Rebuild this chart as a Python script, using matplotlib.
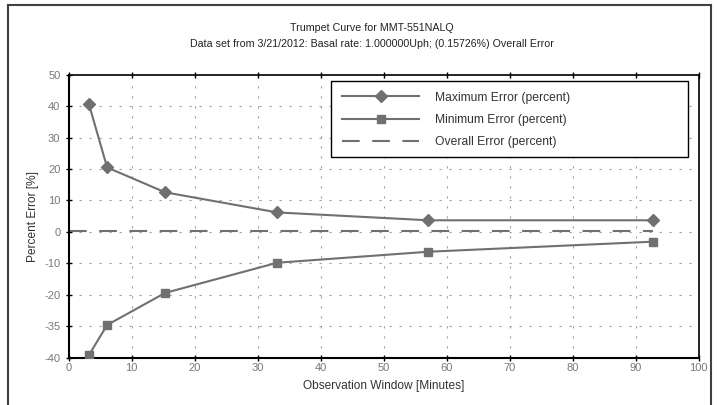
import matplotlib
matplotlib.use("Agg")
import matplotlib.pyplot as plt
from matplotlib.patches import Rectangle
from matplotlib.lines import Line2D

plt.rcParams['font.family'] = ['Liberation Sans', 'DejaVu Sans']

# Data
window_minutes = [3.2, 6.1, 15.3, 33.1, 57.1, 92.8]
max_error = [40.7, 20.5, 12.6, 6.2, 3.7, 3.7]
min_error = [-39.2, -29.6, -19.4, -9.8, -6.3, -3.1]
overall_x = [0, 92.8]
overall_error = [0.15726, 0.15726]

x_ticks = [0, 10, 20, 30, 40, 50, 60, 70, 80, 90, 100]
y_ticks = [50, 40, 30, 20, 10, 0, -10, -20, -30, -40]
y_tick_labels = ["50", "40", "30", "20", "10", "0", "-10", "-20", "-35", "-40"]

title = "Trumpet Curve for MMT-551NALQ"
subtitle = "Data set from 3/21/2012: Basal rate: 1.000000Uph; (0.15726%) Overall Error"

W, H = 717, 405
fig = plt.figure(figsize=(W / 100, H / 100), dpi=100)
ax = fig.add_axes([68.7 / W, 1 - 357.7 / H, 630 / W, 283 / H])

line_col = '#707070'
ax.set_xlim(0, 100)
ax.set_ylim(-40, 50)

# grid
for v in x_ticks[1:-1]:
    ax.axvline(v, color='#a0a0a0', lw=0.8, dashes=(2, 7), zorder=1)
for v in y_ticks[1:-1]:
    ax.axhline(v, color='#a0a0a0', lw=0.8, dashes=(2, 7), zorder=1)

l1, = ax.plot(window_minutes, max_error, color=line_col, lw=1.5, marker='D',
              markersize=6.5, mfc=line_col, mec=line_col, zorder=3,
              label='Maximum Error (percent)')
l2, = ax.plot(window_minutes, min_error, color=line_col, lw=1.5, marker='s',
              markersize=5.5, mfc=line_col, mec=line_col, zorder=3,
              label='Minimum Error (percent)')
l3, = ax.plot(overall_x, overall_error, color=line_col, lw=1.5, dashes=(8.5, 6),
              zorder=2, label='Overall Error (percent)')

ax.set_xticks(x_ticks)
ax.set_yticks(y_ticks)
ax.set_yticklabels(y_tick_labels)
ax.tick_params(axis='both', direction='inout', length=4, width=1, colors='black',
               labelcolor='#777777', labelsize=8, pad=4)
ax.tick_params(axis='x', top=True, pad=2)

for s in ['left', 'bottom']:
    ax.spines[s].set_linewidth(1.5)
for s in ['top', 'right']:
    ax.spines[s].set_linewidth(1.2)

ax.set_xlabel('Observation Window [Minutes]', fontsize=8.6, color='#333333', labelpad=5)
ax.set_ylabel('Percent Error [%]', fontsize=8.6, color='#333333', labelpad=4)

fig.text(372 / W, 1 - 28 / H, title, ha='center', va='center', fontsize=7.7, color='#222222')
fig.text(372 / W, 1 - 44 / H, subtitle, ha='center', va='center', fontsize=7.7, color='#222222')

# legend frame
x0 = (331 - 68.7) / 630
x1 = (688 - 68.7) / 630
y1 = (357.7 - 80.7) / 283
y0 = (357.7 - 157) / 283
ax.add_patch(Rectangle((x0, y0), x1 - x0, y1 - y0, transform=ax.transAxes,
                       facecolor='white', edgecolor='black', lw=1.0, zorder=4))
leg = ax.legend(handles=[l1, l2, l3], loc='upper left',
                bbox_to_anchor=(x0, y1), frameon=False,
                fontsize=8.7, handlelength=6.4, handletextpad=1.3,
                labelspacing=0.85, borderaxespad=0, borderpad=0.9)
leg.set_zorder(5)
for t in leg.get_texts():
    t.set_color('#333333')

# figure frame
fig.add_artist(Line2D([8.3 / W, 8.3 / W], [0, 1 - 4.7 / H], transform=fig.transFigure,
                      color='#404040', lw=1.5))
fig.add_artist(Line2D([8.3 / W, 711 / W], [1 - 4.7 / H, 1 - 4.7 / H], transform=fig.transFigure,
                      color='#404040', lw=1.5))
fig.add_artist(Line2D([711 / W, 711 / W], [0, 1 - 4.7 / H], transform=fig.transFigure,
                      color='#404040', lw=1.5))

fig.savefig('out.png', dpi=100)
